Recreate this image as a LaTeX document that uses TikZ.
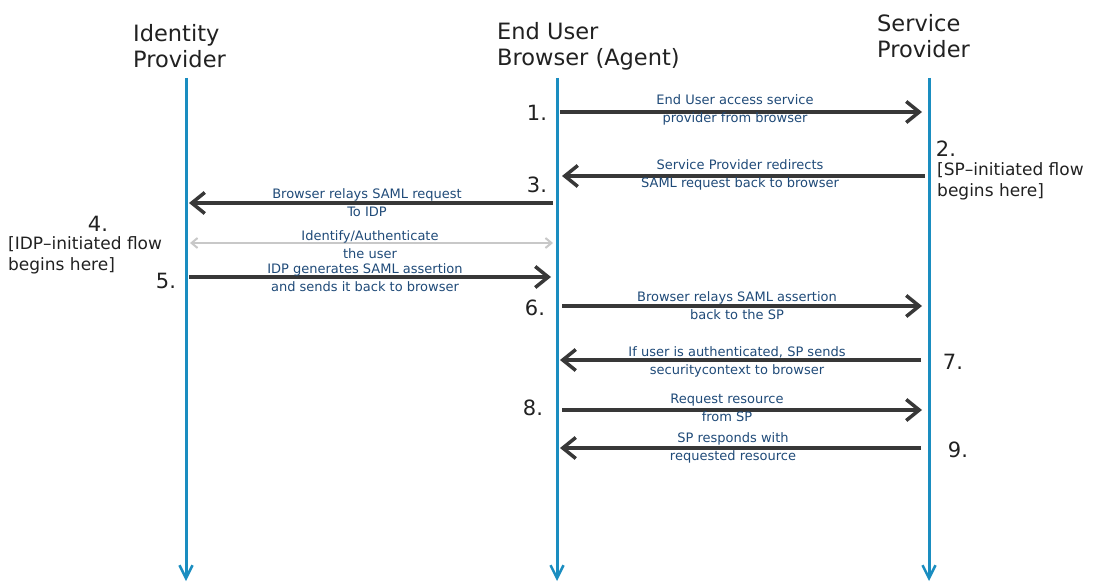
\documentclass[tikz,border=0pt]{standalone}
\usepackage{fontspec}
\setmainfont{DejaVu Sans}
\usetikzlibrary{arrows.meta}
\definecolor{life}{HTML}{1A8DC0}
\definecolor{msg}{HTML}{383838}
\definecolor{lbl}{HTML}{1F4A78}
\definecolor{soft}{HTML}{C8C8C8}
\begin{document}
\begin{tikzpicture}[x=1pt,y=-1pt,
  lifeline/.style={draw=life, line width=3pt, -{Straight Barb[length=13pt,width=13pt,line width=2.5pt]}},
  msgarrow/.style={draw=msg, line width=3.5pt, -{Straight Barb[length=13pt,width=21pt,line width=3.5pt]}},
  softarrow/.style={draw=soft, line width=2pt, {Straight Barb[length=6pt,width=10pt]}-{Straight Barb[length=6pt,width=10pt]}},
  header/.style={font=\fontsize{22.5}{26}\selectfont, text=black!87, align=left, inner sep=0pt, anchor=west},
  msglabel/.style={font=\fontsize{13}{18}\selectfont, text=lbl, align=center, inner sep=0pt},
  stepnum/.style={font=\fontsize{21}{22}\selectfont, text=black!87, inner sep=0pt},
  flownote/.style={font=\fontsize{17}{21.5}\selectfont, text=black!87, align=left, inner sep=0pt, anchor=north west},
]
\useasboundingbox (0,0) rectangle (1095,583);

% headers
\node[header] (hidp) at (133,46) {Identity\\Provider};
\node[header] (hbr) at (497,46) {End User\\Browser (Agent)};
\node[header] (hsp) at (877,36) {Service\\Provider};

% lifelines
\coordinate (idpT) at (186,78);  \coordinate (idpB) at (186,581);
\coordinate (brT) at (557,78);   \coordinate (brB) at (557,581);
\coordinate (spT) at (929,78);   \coordinate (spB) at (929,581);
\draw[lifeline] (idpT) -- (idpB);
\draw[lifeline] (brT) -- (brB);
\draw[lifeline] (spT) -- (spB);

% message endpoints
\coordinate (b1) at (560,112);  \coordinate (s1) at (922,112);
\coordinate (s3) at (925,176);  \coordinate (b3) at (562,176);
\coordinate (b4) at (553,203);  \coordinate (i4) at (189,203);
\coordinate (i4s) at (190,243); \coordinate (b4s) at (553,243);
\coordinate (i5) at (189,277);  \coordinate (b5) at (551,277);
\coordinate (b6) at (562,306);  \coordinate (s6) at (922,306);
\coordinate (s7) at (921,360);  \coordinate (b7) at (560,360);
\coordinate (b8) at (562,410);  \coordinate (s8) at (922,410);
\coordinate (s9) at (921,448);  \coordinate (b9) at (560,448);

\draw[msgarrow] (b1) -- (s1);
\draw[msgarrow] (s3) -- (b3);
\draw[msgarrow] (b4) -- (i4);
\draw[softarrow] (i4s) -- (b4s);
\draw[msgarrow] (i5) -- (b5);
\draw[msgarrow] (b6) -- (s6);
\draw[msgarrow] (s7) -- (b7);
\draw[msgarrow] (b8) -- (s8);
\draw[msgarrow] (s9) -- (b9);

% labels
\node[msglabel] (l1) at (735,110) {End User access service\\provider from browser};
\node[msglabel] (l3) at (740,175) {Service Provider redirects\\SAML request back to browser};
\node[msglabel] (l4) at (367,203) {Browser relays SAML request\\To IDP};
\node[msglabel] (l4s) at (370,245) {Identify/Authenticate\\the user};
\node[msglabel] (l5) at (365,278) {IDP generates SAML assertion\\and sends it back to browser};
\node[msglabel] (l6) at (737,306) {Browser relays SAML assertion\\back to the SP};
\node[msglabel] (l7) at (737,362) {If user is authenticated, SP sends\\securitycontext to browser};
\node[msglabel] (l8) at (727,408) {Request resource\\from SP};
\node[msglabel] (l9) at (733,448) {SP responds with\\requested resource};

% step numbers
\node[stepnum] (n1) at (537,113) {1.};
\node[stepnum] (n2) at (946,149) {2.};
\node[stepnum] (n3) at (537,185) {3.};
\node[stepnum] (n4) at (98,224) {4.};
\node[stepnum] (n5) at (166,281) {5.};
\node[stepnum] (n6) at (535,308) {6.};
\node[stepnum] (n7) at (953,362) {7.};
\node[stepnum] (n8) at (533,408) {8.};
\node[stepnum] (n9) at (958,450) {9.};

% flow notes
\node[flownote] (f2) at (937,162) {[SP–initiated flow\\begins here]};
\node[flownote] (f4) at (8,236) {[IDP–initiated flow\\begins here]};
\end{tikzpicture}
\end{document}
